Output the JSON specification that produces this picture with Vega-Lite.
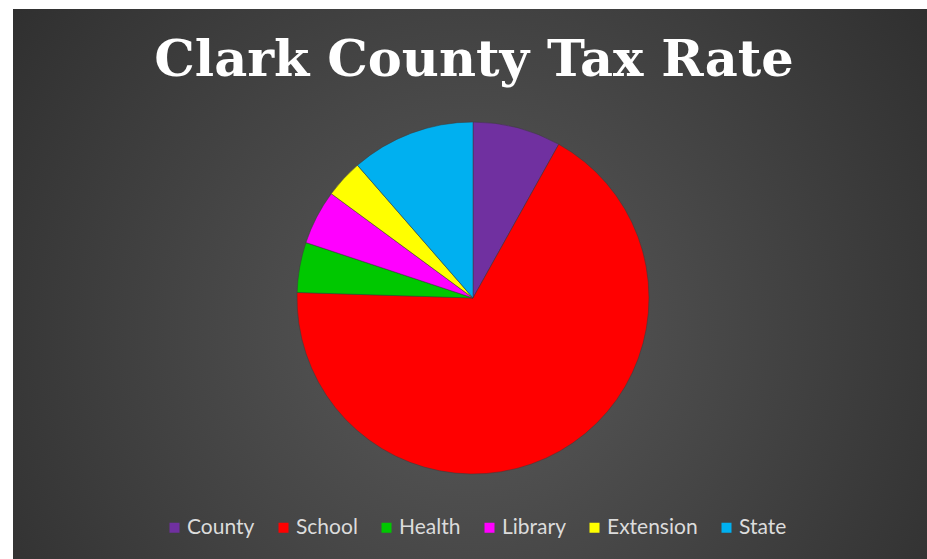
{
  "$schema": "https://vega.github.io/schema/vega-lite/v6.json",
  "width": 927,
  "height": 559,
  "autosize": {"type": "fit", "contains": "padding"},
  "padding": {"left": 13, "top": 9, "right": 0, "bottom": 0},
  "background": "white",
  "title": {
    "text": "Clark County Tax Rate",
    "font": "DejaVu Serif",
    "fontWeight": "bold",
    "fontSize": 51,
    "color": "#ffffff",
    "anchor": "middle",
    "baseline": "alphabetic",
    "offset": -118,
    "dx": 4
  },
  "config": {"view": {"stroke": null}},
  "layer": [
    {
      "data": {"values": [{}]},
      "mark": {
        "type": "rect",
        "fill": {
          "gradient": "radial",
          "x1": 0.5, "y1": 0.55, "r1": 0,
          "x2": 0.5, "y2": 0.55, "r2": 0.75,
          "stops": [
            {"offset": 0, "color": "#5a5a5a"},
            {"offset": 1, "color": "#262626"}
          ]
        }
      },
      "encoding": {
        "x": {"value": 0},
        "x2": {"value": "width"},
        "y": {"value": 0},
        "y2": {"value": "height"}
      }
    },
    {
      "data": {
        "values": [
          {"category": "County", "rate": 8.1, "idx": 1},
          {"category": "School", "rate": 67.4, "idx": 2},
          {"category": "Health", "rate": 4.6, "idx": 3},
          {"category": "Library", "rate": 5.0, "idx": 4},
          {"category": "Extension", "rate": 3.5, "idx": 5},
          {"category": "State", "rate": 11.4, "idx": 6}
        ]
      },
      "mark": {
        "type": "arc",
        "radius": 176,
        "x": {"expr": "width/2 + 3"},
        "y": {"expr": "height/2 + 14"},
        "stroke": "#3a3a3a",
        "strokeWidth": 0.5
      },
      "encoding": {
        "theta": {"field": "rate", "type": "quantitative", "stack": true},
        "order": {"field": "idx", "type": "quantitative"},
        "color": {
          "field": "category",
          "type": "nominal",
          "scale": {
            "domain": ["County", "School", "Health", "Library", "Extension", "State"],
            "range": ["#7030A0", "#FF0000", "#00C800", "#FF00FF", "#FFFF00", "#00B0F0"]
          },
          "legend": {
            "title": null,
            "orient": "none",
            "legendX": 151,
            "legendY": 508,
            "direction": "horizontal",
            "symbolType": "square",
            "symbolSize": 100,
            "symbolStrokeWidth": 0,
            "symbolOpacity": 1,
            "labelFont": "Lato",
            "labelFontSize": 21,
            "labelColor": "#dcdcdc",
            "labelOffset": 2,
            "columnPadding": 18,
            "labelLimit": 0
          }
        }
      }
    }
  ]
}
